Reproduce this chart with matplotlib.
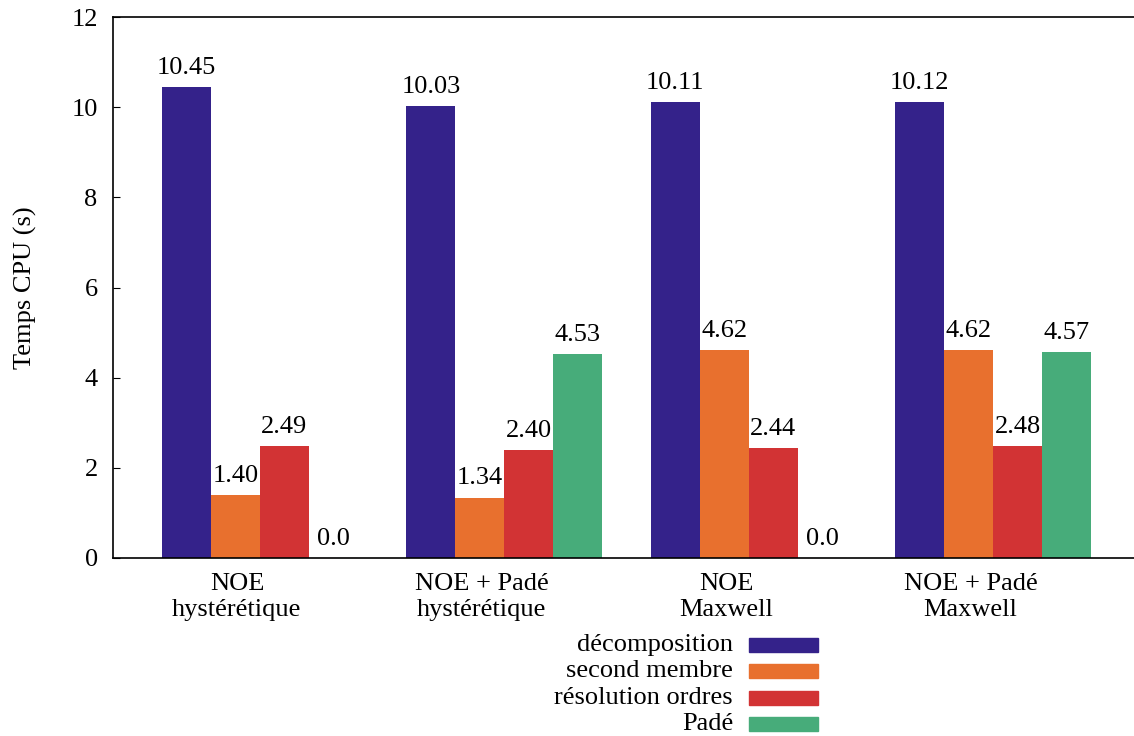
import numpy as np
import matplotlib
matplotlib.use('Agg')
import matplotlib.pyplot as plt
from matplotlib.patches import Rectangle

plt.rcParams['font.family'] = ['Liberation Serif', 'DejaVu Serif']
plt.rcParams['font.size'] = 19

# data
groups = ['NOE\nhystérétique', 'NOE + Padé\nhystérétique', 'NOE\nMaxwell', 'NOE + Padé\nMaxwell']
series = ['décomposition', 'second membre', 'résolution ordres', 'Padé']
decomposition = [10.45, 10.03, 10.11, 10.12]
second_membre = [1.40, 1.34, 4.62, 4.62]
resolution = [2.49, 2.40, 2.44, 2.48]
pade = [0.0, 4.53, 0.0, 4.57]
colors = ['#34228a', '#e8702e', '#d23334', '#47ac7a']

values = [decomposition, second_membre, resolution, pade]

W, H = 1134, 736
fig = plt.figure(figsize=(W / 100, H / 100), dpi=100)
ax_w = (W - 113) / W + 0.01
ax = fig.add_axes([113 / W, (H - 558) / H, ax_w, (558 - 17) / H])

x = np.arange(len(groups))
w = 0.2
start = -0.307
for k, (vals, c) in enumerate(zip(values, colors)):
    lefts = x + start + k * w
    edges = ['#6a1010' if v == 0 else c for v in vals]
    lws = [0.8 if v == 0 else 0 for v in vals]
    bars = ax.bar(lefts, vals, width=w, align='edge', color=c,
                  edgecolor=edges, linewidth=lws)
    for b, v in zip(bars, vals):
        txt = f'{v:.2f}' if v else '0.0'
        ax.annotate(txt, (b.get_x() + w / 2, v), xytext=(0, 9.5),
                    textcoords='offset points', ha='center', va='baseline')

ax.set_ylim(0, 12)
px = 244.5  # pixels per group
ax.set_xlim(-0.507, -0.507 + ax_w * W / px)
ax.set_yticks(np.arange(0, 13, 2))
ax.set_xticks(x)
ax.set_xticklabels(groups, linespacing=1.2)
ax.tick_params(axis='y', direction='in', length=5, pad=11)
ax.tick_params(axis='x', length=0, pad=11)
ax.spines['right'].set_visible(False)
for s in ['left', 'top', 'bottom']:
    ax.spines[s].set_linewidth(1.2)
ax.set_ylabel('Temps CPU (s)')
ax.yaxis.set_label_coords((37 - 113) / (ax_w * W), 0.5)

# legend drawn by hand, gnuplot style
for i, (name, c) in enumerate(zip(series, colors)):
    yc = 645 + i * 26.3
    fig.text(733 / W, 1 - yc / H, name, ha='right', va='center')
    fig.patches.append(Rectangle((749 / W, 1 - (yc + 7) / H), 69 / W, 14 / H,
                                 transform=fig.transFigure, color=c))

fig.savefig('out.png', dpi=100)
